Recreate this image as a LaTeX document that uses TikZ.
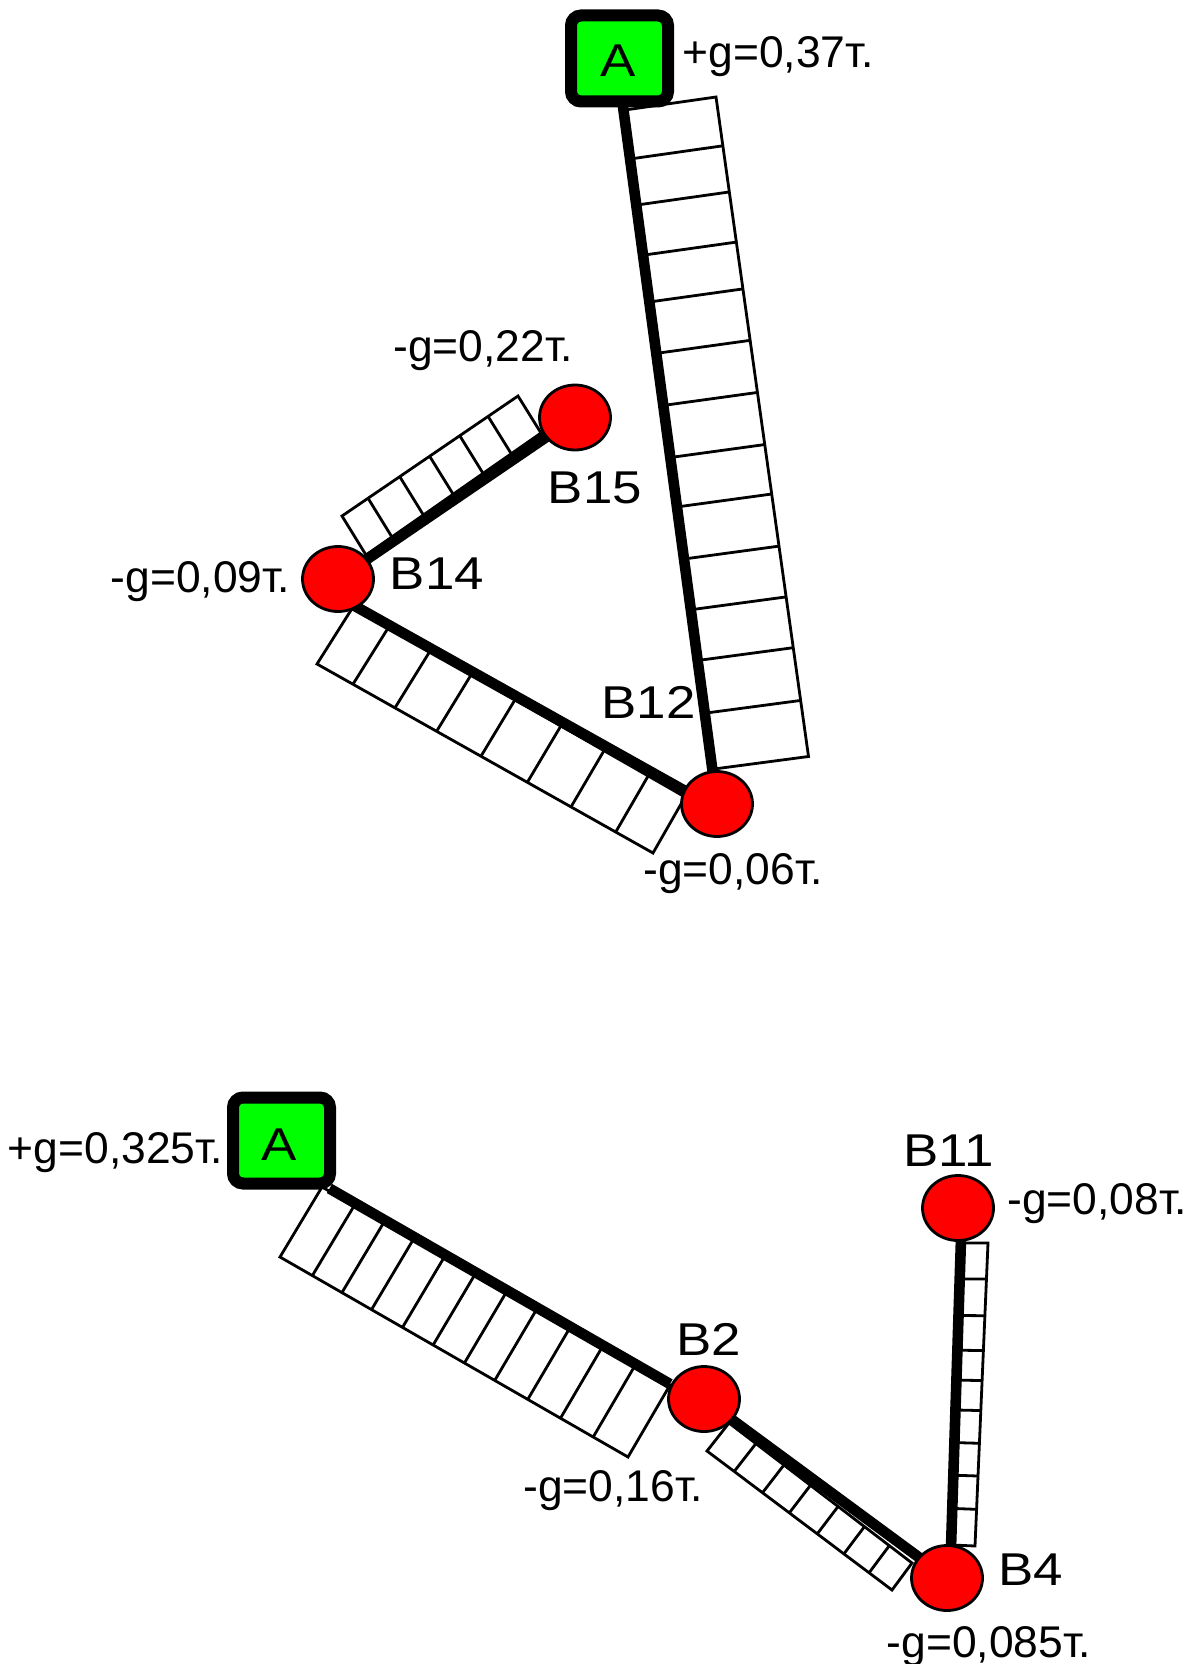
\documentclass[tikz,border=0pt]{standalone}
\usepackage{fontspec}
\setmainfont{Liberation Sans}
\usetikzlibrary{shapes.geometric,calc,backgrounds}
\tikzset{
  source/.style={draw=black,line width=6pt,fill=green,rounded corners=5pt,minimum width=48.5pt,minimum height=43pt,inner sep=0pt,outer sep=0pt},
  sink/.style={ellipse,draw=black,line width=1.4pt,fill=red,minimum width=35.5pt,minimum height=32.5pt,inner sep=0pt,outer sep=0pt},
  gval/.style={anchor=base,inner sep=0pt,font=\fontsize{22.2}{24}\selectfont},
  tag/.style={anchor=base,inner sep=0pt,font=\fontsize{23}{25}\selectfont},
  trunk/.style={draw=black,line width=5.3pt},
  ladder/.style={draw=black,line width=1.4pt,line join=miter}
}
\newcommand{\stretched}[1]{\scalebox{1.15}[1]{#1}}
\newcommand{\ladderbox}[5]{%
  \draw[ladder] (#1) -- (#2) -- (#3) -- (#4) -- cycle;
  \foreach \t in {#5} {\draw[ladder] ($(#1)!\t!(#4)$) -- ($(#2)!\t!(#3)$);}
}
\begin{document}
\begin{tikzpicture}[x=0.5pt,y=-0.5pt]
\useasboundingbox (0,0) rectangle (1201,1664);
% nodes
\node[source] (A1) at (619.5,58.5) {};
\node[source] (A2) at (281.5,1140.5) {};
\node[sink] (B12) at (717,804) {};
\node[sink] (B14) at (338,579) {};
\node[sink] (B15) at (575,417.5) {};
\node[sink] (B2) at (704,1399) {};
\node[sink] (B4) at (947,1578) {};
\node[sink] (B11) at (958,1208) {};
% ladders and trunks behind the nodes
\begin{scope}[on background layer]
  \coordinate (a) at (625,110); \coordinate (b) at (716,97);
  \coordinate (c) at (808.5,756.5); \coordinate (d) at (714,769);
  \ladderbox{a}{b}{c}{d}{.074,.144,.22,.291,.369,.448,.527,.602,.681,.758,.835,.915}
  \draw[trunk] ([xshift=-1.5pt]A1.center) -- (B12);

  \coordinate (a) at (342,516); \coordinate (b) at (518,396);
  \coordinate (c) at (541,433); \coordinate (d) at (366,555);
  \ladderbox{a}{d}{c}{b}{.148,.328,.498,.669,.83}
  \draw[trunk] (B14) -- (B15);

  \coordinate (a) at (353,607); \coordinate (b) at (317,664);
  \coordinate (c) at (653,853); \coordinate (d) at (685,797);
  \ladderbox{b}{a}{d}{c}{.107,.232,.356,.488,.626,.756,.889}
  \draw[trunk] ($(B14)+(15,26)$) -- ($(B12)+(-30,-12)$);

  \coordinate (a) at (322,1187); \coordinate (b) at (280,1257);
  \coordinate (c) at (628,1457); \coordinate (d) at (670,1385);
  \ladderbox{b}{a}{d}{c}{.093,.178,.263,.352,.44,.53,.617,.712,.806,.9}
  \draw[trunk] ($(A2)+(48,48)$) -- ($(B2)+(-34,-15)$);

  \coordinate (a) at (707,1451); \coordinate (b) at (729,1423);
  \coordinate (c) at (912,1563); \coordinate (d) at (892,1590);
  \ladderbox{a}{b}{c}{d}{.147,.3,.445,.596,.74,.876}
  \draw[trunk] (B2) -- (B4);

  \coordinate (a) at (963,1243); \coordinate (b) at (988,1243);
  \coordinate (c) at (975,1546); \coordinate (d) at (953,1545);
  \ladderbox{a}{b}{c}{d}{.119,.24,.355,.454,.553,.661,.769,.879}
  \draw[trunk] ($(B11)+(4,0)$) -- ($(B4)+(3,0)$);
\end{scope}
% texts
\node[tag] (tA1) at (618.5,77) {\stretched{A}};
\node[tag] (tA2) at (279,1160) {\stretched{A}};
\node[gval] (g1) at (778,68) {+g=0,37т.};
\node[gval] (g2) at (483,361) {-g=0,22т.};
\node[tag] (t15) at (595,503) {\stretched{B15}};
\node[tag] (t14) at (437,589) {\stretched{B14}};
\node[gval] (g3) at (200.5,592) {-g=0,09т.};
\node[tag] (t12) at (648.5,718) {\stretched{B12}};
\node[gval] (g4) at (733,884) {-g=0,06т.};
\node[gval] (g5) at (115.6,1163) {+g=0,325т.};
\node[tag] (t11) at (948.5,1166) {\stretched{B11}};
\node[gval] (g6) at (1097,1214) {-g=0,08т.};
\node[tag] (t2) at (709,1355) {\stretched{B2}};
\node[gval] (g7) at (613,1501) {-g=0,16т.};
\node[tag] (t4) at (1031,1585) {\stretched{B4}};
\node[gval] (g8) at (989,1657) {-g=0,085т.};
\end{tikzpicture}
\end{document}
